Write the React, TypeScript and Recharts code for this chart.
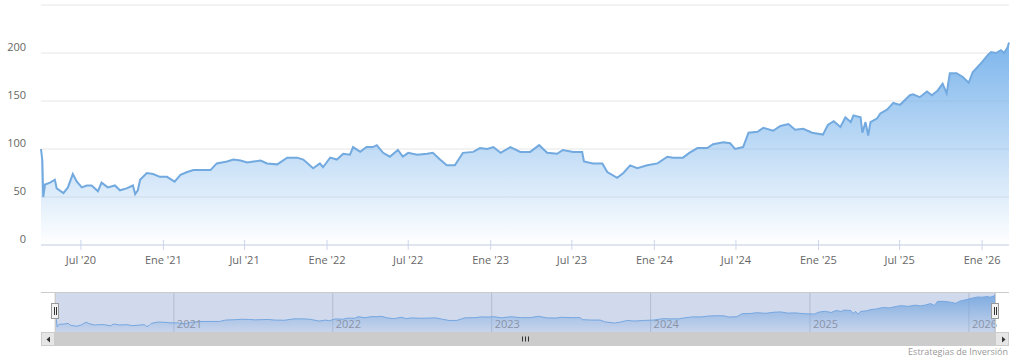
import { AreaChart, Area, XAxis, YAxis, CartesianGrid, ReferenceArea } from "recharts";

// roughly every 2 weeks plus the visible spikes
const DATES = [
  "2020-04-03", "2020-04-06", "2020-04-08", "2020-04-12", "2020-04-23", "2020-05-04", "2020-05-08", "2020-05-23",
  "2020-06-02", "2020-06-13", "2020-06-22", "2020-07-03", "2020-07-14", "2020-07-25", "2020-08-08", "2020-08-16",
  "2020-08-30", "2020-09-15", "2020-09-26", "2020-10-11", "2020-10-25", "2020-10-30", "2020-11-05", "2020-11-10",
  "2020-11-25", "2020-12-09", "2020-12-24", "2021-01-09", "2021-01-26", "2021-02-08", "2021-02-23", "2021-03-09",
  "2021-03-25", "2021-04-16", "2021-04-30", "2021-05-23", "2021-06-06", "2021-06-22", "2021-07-07", "2021-07-21",
  "2021-08-06", "2021-08-20", "2021-09-12", "2021-10-04", "2021-10-26", "2021-11-09", "2021-12-01", "2021-12-16",
  "2021-12-23", "2022-01-08", "2022-01-23", "2022-02-06", "2022-02-21", "2022-02-28", "2022-03-16", "2022-03-30",
  "2022-04-13", "2022-04-22", "2022-05-06", "2022-05-21", "2022-06-08", "2022-06-19", "2022-07-01", "2022-07-21",
  "2022-08-12", "2022-08-25", "2022-09-10", "2022-09-25", "2022-10-13", "2022-10-31", "2022-11-23", "2022-12-08",
  "2022-12-24", "2023-01-07", "2023-01-23", "2023-02-14", "2023-03-08", "2023-03-30", "2023-04-19", "2023-05-07",
  "2023-05-29", "2023-06-11", "2023-07-04", "2023-07-24", "2023-07-28", "2023-08-17", "2023-09-07", "2023-09-18",
  "2023-10-10", "2023-10-24", "2023-11-08", "2023-11-24", "2023-12-16", "2024-01-08", "2024-01-30", "2024-02-12",
  "2024-03-05", "2024-03-19", "2024-04-06", "2024-04-28", "2024-05-11", "2024-06-03", "2024-06-18", "2024-06-29",
  "2024-07-17", "2024-07-29", "2024-08-18", "2024-08-31", "2024-09-22", "2024-10-08", "2024-10-26", "2024-11-10",
  "2024-11-28", "2024-12-18", "2025-01-11", "2025-01-22", "2025-02-04", "2025-02-19", "2025-03-02", "2025-03-14",
  "2025-03-20", "2025-04-05", "2025-04-09", "2025-04-16", "2025-04-22", "2025-04-27", "2025-05-12", "2025-05-19",
  "2025-06-03", "2025-06-17", "2025-07-02", "2025-07-24", "2025-07-31", "2025-08-15", "2025-08-31", "2025-09-11",
  "2025-09-24", "2025-10-05", "2025-10-14", "2025-10-21", "2025-11-05", "2025-11-19", "2025-12-02", "2025-12-11",
  "2025-12-27", "2026-01-14", "2026-01-21", "2026-02-01", "2026-02-12", "2026-02-19", "2026-02-27", "2026-03-02",
];

const VALUES = [
  100, 88, 50, 63, 65, 68, 59, 54,
  60, 74, 66, 60, 62, 62, 56, 65,
  60, 62, 57, 59, 62, 53, 57, 68,
  75, 74, 71, 71, 66, 73, 76, 78,
  78, 78, 85, 87, 89, 88, 86, 87,
  88, 85, 84, 91, 91, 89, 80, 85,
  81, 91, 89, 95, 94, 102, 97, 102,
  102, 104, 96, 92, 99, 92, 96, 94,
  95, 96, 89, 83, 83, 96, 97, 101,
  100, 102, 96, 102, 97, 97, 104, 96,
  95, 99, 97, 97, 87, 85, 85, 76,
  70, 75, 83, 80, 83, 85, 92, 91,
  91, 96, 101, 101, 105, 107, 106, 100,
  102, 117, 118, 122, 119, 124, 126, 120,
  121, 117, 115, 125, 129, 123, 133, 128,
  135, 133, 117, 128, 114, 128, 132, 137,
  141, 148, 146, 156, 157, 154, 160, 156,
  161, 168, 158, 179, 179, 175, 169, 180,
  188, 198, 201, 200, 203, 200, 206, 211,
];

const X_TICKS = [
  "2020-07-01", "2021-01-01", "2021-07-01", "2022-01-01", "2022-07-01", "2023-01-01",
  "2023-07-01", "2024-01-01", "2024-07-01", "2025-01-01", "2025-07-01", "2026-01-01",
];
const NAV_YEARS = ["2021-01-01", "2022-01-01", "2023-01-01", "2024-01-01", "2025-01-01", "2026-01-01"];
const Y_TICKS = [0, 50, 100, 150, 200, 250];
const MESES = ["Ene", "Feb", "Mar", "Abr", "May", "Jun", "Jul", "Ago", "Sep", "Oct", "Nov", "Dic"];

const FONT = "'Open Sans', sans-serif";
const ts = (d: string) => Date.parse(d + "T00:00:00Z");
const data = DATES.map((d, i) => ({ t: ts(d), v: VALUES[i] }));
const tMin = data[0].t;
const tMax = data[data.length - 1].t;

function fmtMonth(v: number) {
  const d = new Date(v);
  return `${MESES[d.getUTCMonth()]} '${String(d.getUTCFullYear()).slice(2)}`;
}

function XTick(props: any) {
  const { x, y, payload } = props;
  return (
    <g>
      <line x1={x} x2={x} y1={y - 16} y2={y - 6} stroke="#ccd6eb" />
      <text x={x} y={y} dy="0.71em" textAnchor="middle" fill="#666666" fontSize={11} fontFamily={FONT}>
        {fmtMonth(payload.value)}
      </text>
    </g>
  );
}

function YTick(props: any) {
  const { x, y, payload } = props;
  if (payload.value === 250) return <g />;
  return (
    <text x={x} y={y - 2} textAnchor="end" fill="#666666" fontSize={11} fontFamily={FONT}>
      {payload.value}
    </text>
  );
}

function NavTick(props: any) {
  const { x, y, payload } = props;
  return (
    <text x={x + 3} y={y - 4} fill="#8a93a8" fontSize={11} fontFamily={FONT}>
      {new Date(payload.value).getUTCFullYear()}
    </text>
  );
}

export default function App() {
  return (
    <div style={{ position: "absolute", left: 0, top: 0, width: 1023, height: 359, background: "#fff", fontFamily: FONT }}>
      <AreaChart width={1023} height={270} data={data} margin={{ top: 5, right: 14, bottom: 0, left: 0 }}>
        <defs>
          <linearGradient id="mainFill" x1="0" y1="0" x2="0" y2="1">
            <stop offset="0%" stopColor="#7cb5ec" stopOpacity={1} />
            <stop offset="100%" stopColor="#7cb5ec" stopOpacity={0} />
          </linearGradient>
        </defs>
        <CartesianGrid vertical={false} stroke="#e6e6e6" />
        <XAxis
          dataKey="t"
          type="number"
          domain={[tMin, tMax]}
          ticks={X_TICKS.map(ts)}
          interval={0}
          height={25}
          tickSize={10}
          tickMargin={1}
          tickLine={false}
          axisLine={{ stroke: "#ccd6eb" }}
          tick={<XTick />}
        />
        <YAxis
          width={41}
          domain={[0, 250]}
          ticks={Y_TICKS}
          interval={0}
          axisLine={false}
          tickLine={false}
          tickSize={0}
          tickMargin={15}
          tick={<YTick />}
        />
        <Area
          type="linear"
          dataKey="v"
          stroke="#72aae0"
          strokeWidth={2}
          fill="url(#mainFill)"
          fillOpacity={1}
          dot={false}
          activeDot={false}
          isAnimationActive={false}
        />
      </AreaChart>

      <div style={{ position: "absolute", left: 0, top: 280 }}>
        <AreaChart width={1023} height={70} data={data} margin={{ top: 12, right: 28, bottom: 0, left: 55 }}>
          <defs>
            <linearGradient id="navFill" x1="0" y1="0" x2="0" y2="1">
              <stop offset="0%" stopColor="#7cb5ec" stopOpacity={0.9} />
              <stop offset="100%" stopColor="#7cb5ec" stopOpacity={0.1} />
            </linearGradient>
          </defs>
          <CartesianGrid horizontal={false} stroke="#d6d6d6" />
          <Area
            type="linear"
            dataKey="v"
            stroke="#7cb5ec"
            strokeWidth={1}
            fill="url(#navFill)"
            fillOpacity={1}
            dot={false}
            activeDot={false}
            isAnimationActive={false}
          />
          <ReferenceArea x1={tMin} x2={tMax} y1={25} y2={226} fill="rgba(102,133,194,0.3)" fillOpacity={1} stroke="none" />
          <XAxis
            dataKey="t"
            type="number"
            domain={[tMin, tMax]}
            ticks={NAV_YEARS.map(ts)}
            interval={0}
            height={18}
            tickSize={0}
            tickMargin={0}
            axisLine={false}
            tickLine={false}
            tick={<NavTick />}
          />
          <YAxis hide domain={[25, 226]} />
        </AreaChart>
      </div>

      {/* navigator chrome + scrollbar + credits */}
      <svg width={1023} height={359} style={{ position: "absolute", left: 0, top: 0, pointerEvents: "none" }}>
        <line x1={41} x2={1009} y1={292.5} y2={292.5} stroke="#cccccc" />
        <line x1={55.5} x2={55.5} y1={292} y2={332} stroke="#cccccc" />
        <line x1={995.5} x2={995.5} y1={292} y2={332} stroke="#cccccc" />
        <rect x={41} y={332} width={968} height={14} fill="#f2f2f2" />
        <rect x={55} y={332} width={940} height={14} fill="#cccccc" />
        <rect x={41.5} y={332.5} width={13} height={13} fill="#e6e6e6" stroke="#cccccc" />
        <rect x={995.5} y={332.5} width={13} height={13} fill="#e6e6e6" stroke="#cccccc" />
        <path d="M50 336.5 L46.5 339.5 L50 342.5 Z" fill="#333333" />
        <path d="M1002 336.5 L1005.5 339.5 L1002 342.5 Z" fill="#333333" />
        <line x1={522.5} x2={522.5} y1={336.5} y2={341.5} stroke="#333333" />
        <line x1={525.5} x2={525.5} y1={336.5} y2={341.5} stroke="#333333" />
        <line x1={528.5} x2={528.5} y1={336.5} y2={341.5} stroke="#333333" />
        <rect x={51.5} y={303.5} width={7} height={15} fill="#f2f2f2" stroke="#999999" />
        <line x1={54.5} x2={54.5} y1={307} y2={315} stroke="#333333" />
        <line x1={56.5} x2={56.5} y1={307} y2={315} stroke="#333333" />
        <rect x={991.5} y={303.5} width={7} height={15} fill="#f2f2f2" stroke="#999999" />
        <line x1={994.5} x2={994.5} y1={307} y2={315} stroke="#333333" />
        <line x1={996.5} x2={996.5} y1={307} y2={315} stroke="#333333" />
        <text x={1008} y={355} textAnchor="end" fill="#999999" fontSize={9} fontFamily={FONT}>
          Estrategias de Inversión
        </text>
      </svg>
    </div>
  );
}
